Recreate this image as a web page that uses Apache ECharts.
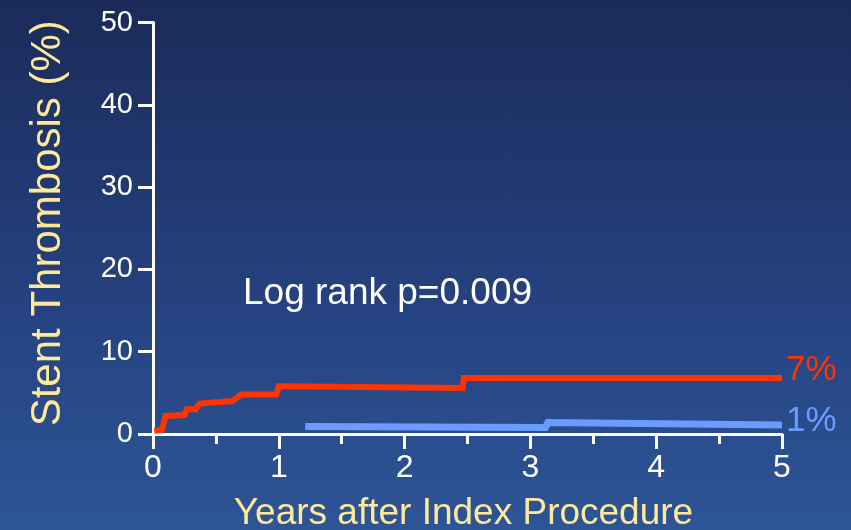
<!DOCTYPE html>
<html>
<head>
<meta charset="utf-8">
<script src="https://cdn.jsdelivr.net/npm/echarts@6/dist/echarts.min.js"></script>
<style>
  html, body { margin: 0; padding: 0; }
  body { width: 851px; height: 530px; overflow: hidden;
         background: linear-gradient(180deg, #1b2b5a 0%, #243f7b 50%, #2d5597 100%); }
  #chart { width: 851px; height: 530px; }
</style>
</head>
<body>
<div id="chart"></div>
<script>
// Kaplan–Meier style cumulative stent thrombosis (%), by years after procedure
const redYears  = [0.01, 0.07, 0.10, 0.25, 0.27, 0.34, 0.37, 0.63, 0.70, 0.98, 1.00, 2.46, 2.47, 5.00];
const redPct    = [0.4, 0.5, 2.2, 2.3, 3.0, 3.0, 3.7, 4.0, 4.8, 4.8, 5.8, 5.6, 6.8, 6.8];
const blueYears = [1.21, 3.12, 3.14, 5.00];
const bluePct   = [0.9, 0.8, 1.4, 1.1];
const xTicks = [0, 1, 2, 3, 4, 5];
const yTicks = [0, 10, 20, 30, 40, 50];
const annotation = 'Log rank p=0.009';

const pairs = (xs, ys) => xs.map((x, i) => [x, ys[i]]);
const FONT = '"Liberation Sans", Arial, sans-serif';
const pctLabel = p => Math.round(p.value[1]) + '%';

const chart = echarts.init(document.getElementById('chart'), null, { renderer: 'canvas' });
chart.setOption({
  backgroundColor: 'transparent',
  animation: false,
  grid: { left: 153, right: 69, top: 22.5, bottom: 96, containLabel: false, outerBoundsMode: 'none' },
  xAxis: {
    type: 'value', min: xTicks[0], max: xTicks[xTicks.length - 1], interval: 1,
    name: 'Years after Index Procedure', nameLocation: 'middle', nameGap: 61,
    nameTextStyle: { color: '#fde89b', fontSize: 37, fontFamily: FONT, padding: [0, 8, 0, 0] },
    axisLine: { show: true, lineStyle: { color: '#ffffff', width: 3 } },
    axisTick: { show: true, length: 15, lineStyle: { color: '#ffffff', width: 3 } },
    minorTick: { show: true, splitNumber: 2, length: 10, lineStyle: { color: '#ffffff', width: 3 } },
    axisLabel: { color: '#ffffff', fontSize: 32, fontFamily: FONT, margin: 18 },
    splitLine: { show: false }
  },
  yAxis: {
    type: 'value', min: yTicks[0], max: yTicks[yTicks.length - 1], interval: 10,
    name: 'Stent Thrombosis (%)', nameLocation: 'middle', nameGap: 84, nameRotate: 90,
    nameTextStyle: { color: '#fde89b', fontSize: 42, fontFamily: FONT, padding: [0, 0, 0, 10] },
    axisLine: { show: true, lineStyle: { color: '#ffffff', width: 3 } },
    axisTick: { show: true, length: 15, lineStyle: { color: '#ffffff', width: 3 } },
    axisLabel: { color: '#ffffff', fontSize: 29, fontFamily: FONT, margin: 20 },
    splitLine: { show: false }
  },
  graphic: [{
    type: 'text', left: 243, top: 275,
    style: { text: annotation, fill: '#ffffff', fontSize: 37, fontFamily: FONT }
  }],
  series: [
    {
      type: 'line', data: pairs(redYears, redPct), symbol: 'none', z: 3,
      lineStyle: { color: '#ff3300', width: 6, cap: 'butt', join: 'miter' },
      endLabel: { show: true, formatter: pctLabel, color: '#ff3300', fontSize: 35,
                  fontFamily: FONT, distance: 4, offset: [0, -8] }
    },
    {
      type: 'line', data: pairs(blueYears, bluePct), symbol: 'none', z: 4,
      lineStyle: { color: '#6a9cff', width: 7, cap: 'butt', join: 'miter' },
      endLabel: { show: true, formatter: pctLabel, color: '#6a9cff', fontSize: 35,
                  fontFamily: FONT, distance: 4, offset: [0, -4] }
    }
  ]
});
</script>
</body>
</html>
